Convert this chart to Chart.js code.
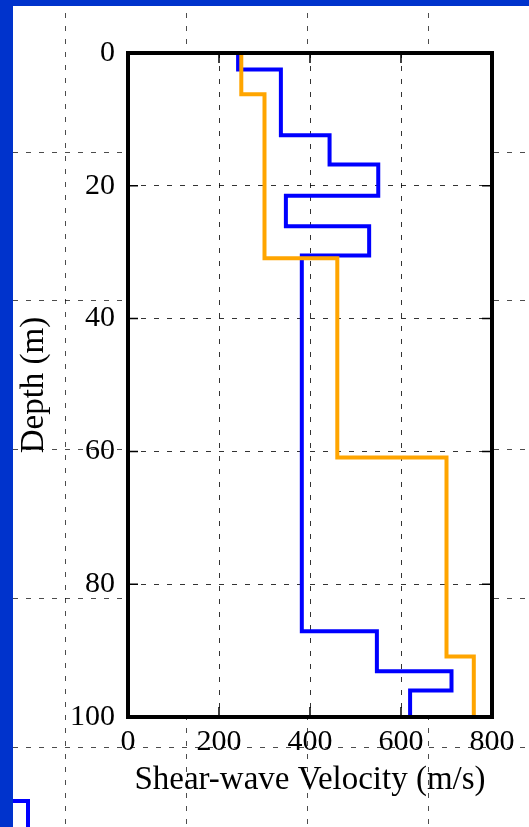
<!DOCTYPE html>
<html>
<head>
<meta charset="utf-8">
<script src="https://cdn.jsdelivr.net/npm/chart.js@4/dist/chart.umd.min.js"></script>
<style>
  html, body { margin: 0; padding: 0; background: #fff; }
  body { width: 529px; height: 827px; position: relative; overflow: hidden; }
  #c { position: absolute; left: 0; top: 0; }
  .band { position: absolute; background: #0033cc; z-index: 2; }
  #stub { position: absolute; left: 0; top: 799px; width: 30px; height: 60px;
          box-sizing: border-box; border: 4px solid #0000ff; z-index: 1; }
</style>
</head>
<body>
<canvas id="c" width="529" height="827"></canvas>
<div class="band" style="left:0;top:0;width:529px;height:6px"></div>
<div class="band" style="left:0;top:0;width:13px;height:827px"></div>
<div id="stub"></div>
<script>
// layer boundaries (m) and shear-wave velocity of each layer (m/s)
const blueDepth = [0, 2.5, 12.4, 16.8, 21.5, 26.1, 30.5, 87.1, 93.1, 96, 100];
const blueVs = [242, 336, 443, 550, 347, 530, 382, 547, 711, 620];
const orangeDepth = [0, 6.2, 30.9, 60.9, 90.9, 100];
const orangeVs = [249, 300, 460, 700, 760];

const xTicks = [0, 200, 400, 600, 800];
const yTicks = [0, 20, 40, 60, 80, 100];

// background paper grid
const pageX = [65, 186, 307, 428];
const pageY = [152, 300, 449, 598, 747];

function profile(depths, vs) {
  const pts = [];
  vs.forEach((v, i) => {
    pts.push({ x: v, y: depths[i] });
    pts.push({ x: v, y: depths[i + 1] });
  });
  return pts;
}

const serif = "'Liberation Serif', 'Times New Roman', serif";

const paper = {
  id: 'paper',
  beforeDraw(chart) {
    const { ctx, chartArea: a, width, height } = chart;
    ctx.save();
    ctx.fillStyle = '#fff';
    ctx.fillRect(0, 0, width, height);
    ctx.strokeStyle = 'rgba(0,0,0,0.7)';
    ctx.lineWidth = 1;
    ctx.setLineDash([5, 8]);
    pageX.forEach(x => {
      ctx.beginPath(); ctx.moveTo(x + 0.5, 0); ctx.lineTo(x + 0.5, height); ctx.stroke();
    });
    pageY.forEach(y => {
      ctx.beginPath(); ctx.moveTo(0, y + 0.5); ctx.lineTo(width, y + 0.5); ctx.stroke();
    });
    ctx.setLineDash([]);
    ctx.fillRect(a.left, a.top, a.right - a.left, a.bottom - a.top);
    ctx.restore();
  },
  afterDraw(chart) {
    const { ctx, chartArea: a } = chart;
    const xs = chart.scales.x, ys = chart.scales.y;
    ctx.save();
    ctx.strokeStyle = '#000';
    ctx.lineWidth = 1.5;
    xTicks.forEach(v => {
      const px = xs.getPixelForValue(v);
      ctx.beginPath();
      ctx.moveTo(px, a.top); ctx.lineTo(px, a.top + 10);
      ctx.moveTo(px, a.bottom); ctx.lineTo(px, a.bottom - 10);
      ctx.stroke();
    });
    yTicks.forEach(v => {
      const py = ys.getPixelForValue(v);
      ctx.beginPath();
      ctx.moveTo(a.left, py); ctx.lineTo(a.left + 10, py);
      ctx.moveTo(a.right, py); ctx.lineTo(a.right - 10, py);
      ctx.stroke();
    });
    ctx.lineWidth = 4;
    ctx.strokeRect(a.left, a.top, a.right - a.left, a.bottom - a.top);
    ctx.restore();
  }
};

new Chart(document.getElementById('c'), {
  type: 'scatter',
  data: {
    datasets: [
      {
        label: 'Profile B',
        data: profile(orangeDepth, orangeVs),
        showLine: true,
        borderColor: '#ffa500',
        borderWidth: 4,
        pointRadius: 0,
        tension: 0,
        borderJoinStyle: 'miter'
      },
      {
        label: 'Profile A',
        data: profile(blueDepth, blueVs),
        showLine: true,
        borderColor: '#0000ff',
        borderWidth: 4,
        pointRadius: 0,
        tension: 0,
        borderJoinStyle: 'miter'
      }
    ]
  },
  options: {
    responsive: false,
    animation: false,
    layout: { padding: { top: 53, right: 37, left: 0, bottom: 0 } },
    plugins: { legend: { display: false }, tooltip: { enabled: false } },
    scales: {
      x: {
        type: 'linear',
        position: 'bottom',
        min: 0,
        max: 800,
        afterBuildTicks: s => { s.ticks = xTicks.map(v => ({ value: v })); },
        afterFit: s => { s.height = 110; },
        ticks: { color: '#000', font: { family: serif, size: 30 }, padding: 7 },
        grid: { color: 'rgba(0,0,0,0.8)', lineWidth: 1, drawTicks: false },
        border: { display: false, dash: [5, 8] },
        title: {
          display: true,
          text: 'Shear-wave Velocity (m/s)',
          color: '#000',
          font: { family: serif, size: 33 },
          padding: { top: 0, bottom: 27 }
        }
      },
      y: {
        type: 'linear',
        reverse: true,
        min: 0,
        max: 100,
        afterBuildTicks: s => { s.ticks = yTicks.map(v => ({ value: v })); },
        afterFit: s => { s.width = 128; },
        ticks: { color: '#000', font: { family: serif, size: 30 }, padding: 13 },
        grid: { color: 'rgba(0,0,0,0.8)', lineWidth: 1, drawTicks: false },
        border: { display: false, dash: [5, 8] },
        title: {
          display: true,
          text: 'Depth (m)',
          color: '#000',
          font: { family: serif, size: 33 },
          padding: { top: 15, bottom: 0 }
        }
      }
    }
  },
  plugins: [paper]
});
</script>
</body>
</html>
